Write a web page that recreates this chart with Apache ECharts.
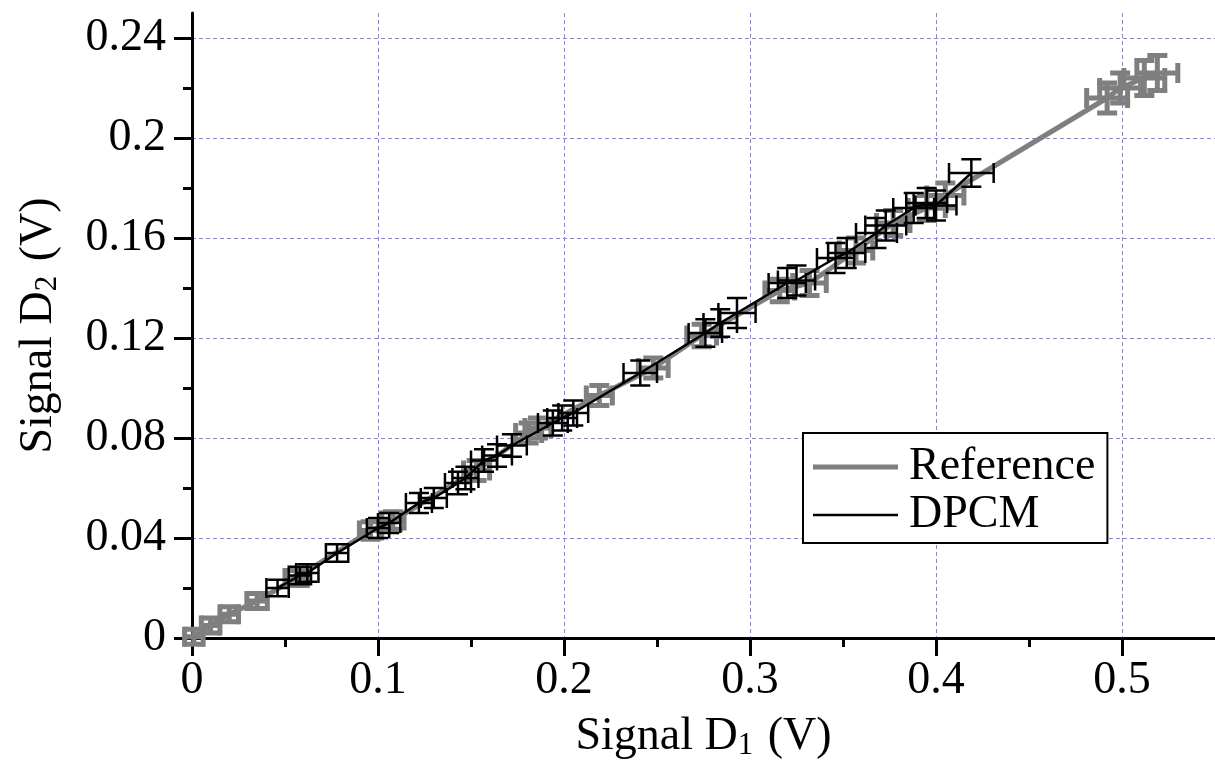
<!DOCTYPE html>
<html><head><meta charset="utf-8">
<script src="https://cdn.jsdelivr.net/npm/echarts@6/dist/echarts.min.js"></script>
<style>html,body{margin:0;padding:0;background:#fff}#c{width:1215px;height:776px}</style>
</head><body><div id="c"></div>
<script>
// ---- data ----
const refX    = [0.001, 0.010, 0.020, 0.035, 0.056, 0.096, 0.108, 0.153, 0.181, 0.186, 0.219, 0.248, 0.274, 0.316, 0.332, 0.357, 0.377, 0.395, 0.405, 0.492, 0.499, 0.512, 0.519];
const refY    = [0.0005, 0.005, 0.0095, 0.0148, 0.024, 0.043, 0.047, 0.067, 0.082, 0.084, 0.097, 0.108, 0.121, 0.139, 0.142, 0.155, 0.166, 0.172, 0.177, 0.216, 0.220, 0.224, 0.226];
const refXErr = [0.005, 0.005, 0.005, 0.0055, 0.006, 0.006, 0.006, 0.007, 0.007, 0.007, 0.007, 0.008, 0.008, 0.008, 0.009, 0.009, 0.009, 0.010, 0.010, 0.011, 0.011, 0.011, 0.011];
const refYErr = [0.003, 0.003, 0.003, 0.003, 0.003, 0.0035, 0.0035, 0.004, 0.004, 0.004, 0.004, 0.004, 0.0045, 0.0045, 0.005, 0.005, 0.005, 0.005, 0.005, 0.006, 0.006, 0.007, 0.007];

const dpcmX    = [0.046, 0.058, 0.062, 0.078, 0.100, 0.106, 0.122, 0.130, 0.143, 0.147, 0.157, 0.164, 0.172, 0.194, 0.199, 0.205, 0.241, 0.276, 0.284, 0.293, 0.320, 0.325, 0.346, 0.352, 0.368, 0.373, 0.388, 0.395, 0.400, 0.419];
const dpcmY    = [0.020, 0.025, 0.026, 0.034, 0.044, 0.046, 0.054, 0.056, 0.062, 0.064, 0.071, 0.073, 0.077, 0.086, 0.088, 0.090, 0.106, 0.122, 0.126, 0.130, 0.142, 0.143, 0.152, 0.154, 0.162, 0.165, 0.172, 0.174, 0.173, 0.186];
const dpcmXErr = [0.006, 0.006, 0.006, 0.006, 0.006, 0.006, 0.007, 0.007, 0.007, 0.007, 0.007, 0.008, 0.008, 0.008, 0.008, 0.008, 0.009, 0.009, 0.009, 0.010, 0.010, 0.010, 0.010, 0.010, 0.011, 0.011, 0.011, 0.011, 0.011, 0.012];
const dpcmYErr = [0.0033, 0.0035, 0.0035, 0.0035, 0.004, 0.004, 0.004, 0.004, 0.0045, 0.0045, 0.0045, 0.0045, 0.0045, 0.005, 0.005, 0.005, 0.005, 0.0055, 0.0055, 0.006, 0.006, 0.006, 0.006, 0.006, 0.006, 0.006, 0.006, 0.006, 0.006, 0.0055];

const xTicks = [0, 0.1, 0.2, 0.3, 0.4, 0.5];
const yTicks = [0, 0.04, 0.08, 0.12, 0.16, 0.2, 0.24];
const xMinorTicks = [0.05, 0.15, 0.25, 0.35, 0.45];
const yMinorTicks = [0.02, 0.06, 0.1, 0.14, 0.18, 0.22];
const xTitle = '{n|Signal D}{sub|1}{n| (V)}';
const yTitle = '{n|Signal D}{sub|2}{n| (V)}';
const seriesNames = ['Reference', 'DPCM'];

// ---- styling ----
const FONT = 'Liberation Serif';
const FS = 46;
const GRAY = '#7f7f7f';
const BLACK = '#000';
const GRIDC = '#7f7fff';

function errRender(color, lw, cap) {
  return function (params, api) {
    const x = api.value(0), y = api.value(1), dx = api.value(2), dy = api.value(3);
    const pL = api.coord([x - dx, y]), pR = api.coord([x + dx, y]);
    const pB = api.coord([x, y - dy]), pT = api.coord([x, y + dy]);
    const style = { stroke: color, lineWidth: lw, fill: null };
    const L = (x1, y1, x2, y2) => ({ type: 'line', shape: { x1, y1, x2, y2 }, style });
    return {
      type: 'group',
      children: [
        L(pL[0], pL[1], pR[0], pR[1]),
        L(pB[0], pB[1], pT[0], pT[1]),
        L(pL[0], pL[1] - cap, pL[0], pL[1] + cap),
        L(pR[0], pR[1] - cap, pR[0], pR[1] + cap),
        L(pB[0] - cap, pB[1], pB[0] + cap, pB[1]),
        L(pT[0] - cap, pT[1], pT[0] + cap, pT[1])
      ]
    };
  };
}

const richTitle = {
  n: { fontFamily: FONT, fontSize: FS, color: '#000' },
  sub: { fontFamily: FONT, fontSize: 31, color: '#000', padding: [18, 3, 0, 0] }
};

const splitStyle = { show: true, lineStyle: { color: GRIDC, width: 1, type: [4, 3], opacity: 1 } };
const lineStyleAxis = { show: true, onZero: false, lineStyle: { color: '#000', width: 3 } };

const option = {
  animation: false,
  backgroundColor: '#fff',
  grid: { left: 192, right: 0, top: 13, bottom: 138, containLabel: false },
  legend: {
    orient: 'vertical', left: 803, top: 433,
    padding: [11, 12, 5, 10], itemGap: 2, itemWidth: 85, itemHeight: 20,
    borderColor: '#000', borderWidth: 2, backgroundColor: '#fff',
    textStyle: { fontFamily: FONT, fontSize: FS, color: '#000', lineHeight: 46, padding: [0, 0, 0, 6] },
    data: [
      { name: seriesNames[0], icon: 'path://M0,0L85,0L85,5L0,5Z', itemStyle: { color: GRAY } },
      { name: seriesNames[1], icon: 'path://M0,0L85,0L85,2.5L0,2.5Z', itemStyle: { color: BLACK } }
    ]
  },
  xAxis: [
    {
      type: 'value', min: 0, max: 0.55, position: 'bottom',
      axisLine: lineStyleAxis,
      splitLine: splitStyle,
      axisTick: { show: true, length: 18, customValues: xTicks, lineStyle: { color: '#000', width: 3 } },
      axisLabel: { customValues: xTicks, margin: 20, fontFamily: FONT, fontSize: FS, color: '#000' },
      name: xTitle, nameLocation: 'middle', nameGap: 74,
      nameTextStyle: { fontFamily: FONT, fontSize: FS, color: '#000', rich: richTitle }
    },
    {
      type: 'value', min: 0, max: 0.55, position: 'bottom',
      axisLine: { show: false }, splitLine: { show: false }, axisLabel: { show: false },
      axisTick: { show: true, length: 9, customValues: xMinorTicks, lineStyle: { color: '#000', width: 3 } }
    }
  ],
  yAxis: [
    {
      type: 'value', min: 0, max: 0.25, position: 'left',
      axisLine: lineStyleAxis,
      splitLine: splitStyle,
      axisTick: { show: true, length: 18, customValues: yTicks, lineStyle: { color: '#000', width: 3 } },
      axisLabel: { customValues: yTicks, margin: 26, fontFamily: FONT, fontSize: FS, color: '#000' },
      name: yTitle, nameLocation: 'middle', nameGap: 129, nameRotate: 90,
      nameTextStyle: { fontFamily: FONT, fontSize: FS, color: '#000', rich: richTitle }
    },
    {
      type: 'value', min: 0, max: 0.25, position: 'left',
      axisLine: { show: false }, splitLine: { show: false }, axisLabel: { show: false },
      axisTick: { show: true, length: 9, customValues: yMinorTicks, lineStyle: { color: '#000', width: 3 } }
    }
  ],
  series: [
    {
      name: 'Reference', type: 'line', symbol: 'none', showSymbol: false, z: 2,
      lineStyle: { color: GRAY, width: 5 }, itemStyle: { color: GRAY },
      data: refX.map((x, i) => [x, refY[i]])
    },
    {
      name: 'ReferenceErr', type: 'custom', z: 2,
      renderItem: errRender(GRAY, 5, 10),
      encode: { x: 0, y: 1 },
      data: refX.map((x, i) => [x, refY[i], refXErr[i], refYErr[i]])
    },
    {
      name: 'DPCM', type: 'line', symbol: 'none', showSymbol: false, z: 3,
      lineStyle: { color: BLACK, width: 2.5 }, itemStyle: { color: BLACK },
      data: dpcmX.map((x, i) => [x, dpcmY[i]])
    },
    {
      name: 'DPCMErr', type: 'custom', z: 3,
      renderItem: errRender(BLACK, 2.5, 10),
      encode: { x: 0, y: 1 },
      data: dpcmX.map((x, i) => [x, dpcmY[i], dpcmXErr[i], dpcmYErr[i]])
    }
  ]
};

const chart = echarts.init(document.getElementById('c'), null, { renderer: 'canvas' });
chart.setOption(option);
</script>
</body></html>
